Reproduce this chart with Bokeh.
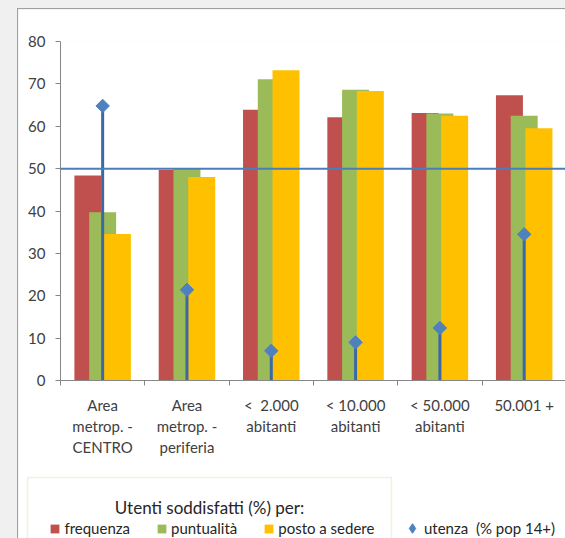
from bokeh.plotting import figure
from bokeh.models import (Range1d, FixedTicker, Span, BoxAnnotation, Label,
                          Legend, LegendItem, ColumnDataSource)
from bokeh.transform import dodge
from bokeh.embed import file_html
from bokeh.resources import INLINE

# --- data -------------------------------------------------------------
categorie = ["Area\nmetrop. -\nCENTRO", "Area\nmetrop. -\nperiferia",
             "<\u00a0 2.000\nabitanti", "< 10.000\nabitanti",
             "< 50.000\nabitanti", "50.001 +"]
frequenza = [48.4, 49.7, 63.9, 62.1, 63.1, 67.3]
puntualita = [39.7, 49.9, 71.1, 68.6, 63.0, 62.5]
posto_a_sedere = [34.6, 48.0, 73.2, 68.3, 62.5, 59.5]
utenza = [64.8, 21.4, 7.0, 9.0, 12.4, 34.5]
soglia = 50
y_ticks = [0, 10, 20, 30, 40, 50, 60, 70, 80]

# --- style ------------------------------------------------------------
FONT = "Lato"
TXT = "#404040"
LEG_TXT = "#262626"
AXIS = "#868686"
C_FREQ, C_PUNT, C_POSTO = "#c0504d", "#9bbb59", "#ffc000"
C_BLUE, C_STEM = "#4f81bd", "#3c68a4"

W = 547
H_CHART = 461
H_LEG = 70

centri = [i + 0.5 for i in range(len(categorie))]
src = ColumnDataSource(dict(x=centri, freq=frequenza, punt=puntualita,
                            posto=posto_a_sedere, ut=utenza,
                            zero=[0] * len(centri)))

# --- main chart -------------------------------------------------------
p = figure(width=W, height=H_CHART, output_backend="svg", toolbar_location=None,
           x_range=Range1d(0, 5.99), y_range=Range1d(0, 80),
           min_border_left=42, min_border_right=0, min_border_top=32,
           min_border_bottom=90, background_fill_color="white",
           border_fill_color="white", outline_line_color=None)
p.margin = (9, 0, 0, 18)
p.grid.visible = False

p.yaxis.ticker = FixedTicker(ticks=y_ticks)
p.yaxis.axis_line_color = AXIS
p.yaxis.major_tick_line_color = AXIS
p.yaxis.major_tick_out = 5
p.yaxis.major_tick_in = 0
p.yaxis.minor_tick_line_color = None
p.yaxis.major_label_standoff = 10
p.yaxis.major_label_text_font = FONT
p.yaxis.major_label_text_font_size = "15px"
p.yaxis.major_label_text_color = TXT

p.xaxis.ticker = FixedTicker(ticks=centri, minor_ticks=list(range(len(categorie) + 1)))
p.xaxis.major_label_overrides = {c: lab for c, lab in zip(centri, categorie)}
p.xaxis.axis_line_color = AXIS
p.xaxis.major_tick_line_color = None
p.xaxis.minor_tick_line_color = AXIS
p.xaxis.minor_tick_out = 5
p.xaxis.minor_tick_in = 0
p.xaxis.major_label_standoff = 9
p.xaxis.major_label_text_font = FONT
p.xaxis.major_label_text_font_size = "15px"
p.xaxis.major_label_text_color = TXT
p.xaxis.major_label_text_line_height = 1.17

# overlapping bar clusters
bw = 0.32
p.vbar(x=dodge("x", -0.175, range=p.x_range), top="freq", width=bw,
       source=src, fill_color=C_FREQ, line_color=None)
p.vbar(x=dodge("x", 0.0, range=p.x_range), top="punt", width=bw,
       source=src, fill_color=C_PUNT, line_color=None)
p.vbar(x=dodge("x", 0.175, range=p.x_range), top="posto", width=bw,
       source=src, fill_color=C_POSTO, line_color=None)

# reference level
p.add_layout(Span(location=soglia, dimension="width", line_color="#4a7ebb",
                  line_width=2, level="overlay"))

# usage: stems with diamond heads
p.segment(x0="x", y0="zero", x1="x", y1="ut", source=src,
          line_color=C_STEM, line_width=3)
p.scatter(x="x", y="ut", source=src, marker="square", angle=0.785398,
          size=9.5, fill_color=C_BLUE, line_color=C_BLUE)

# --- legend strip (pixel coordinates) ---------------------------------
q = figure(width=W, height=H_LEG, output_backend="svg", toolbar_location=None,
           x_range=Range1d(0, W), y_range=Range1d(0, H_LEG),
           min_border=0, background_fill_color="white",
           border_fill_color="white", outline_line_color=None)
q.margin = (-2, 0, 0, 18)
q.axis.visible = False
q.grid.visible = False

q.add_layout(BoxAnnotation(left=9, right=373, top=61, bottom=-30,
                           fill_alpha=0, line_color="#d3cba5", line_width=1.5))
q.add_layout(Label(x=191, y=31, text="Utenti soddisfatti (%) per:",
                   text_align="center", text_baseline="middle", text_font=FONT,
                   text_font_size="17px", text_color=LEG_TXT))

# legend swatches only (NaN keeps them off the canvas)
nan = float("nan")
g_freq = q.vbar(x=[nan], top=[nan], width=1, fill_color=C_FREQ, line_color=None)
g_punt = q.vbar(x=[nan], top=[nan], width=1, fill_color=C_PUNT, line_color=None)
g_posto = q.vbar(x=[nan], top=[nan], width=1, fill_color=C_POSTO, line_color=None)
g_ut = q.scatter(x=[nan], y=[nan], marker="diamond", fill_color=C_BLUE,
                 line_color=C_BLUE)

leg_a = Legend(items=[LegendItem(label="frequenza", renderers=[g_freq]),
                      LegendItem(label="puntualità", renderers=[g_punt]),
                      LegendItem(label="posto a sedere", renderers=[g_posto])],
               orientation="horizontal", location=(31.4, 0), padding=0,
               margin=0, spacing=26, glyph_width=11, glyph_height=11,
               label_standoff=4, label_height=20, label_text_font=FONT,
               label_text_font_size="15px", label_text_color=LEG_TXT,
               border_line_color=None, background_fill_alpha=0)
leg_b = Legend(items=[LegendItem(label="utenza  (% pop 14+)", renderers=[g_ut])],
               orientation="horizontal", location=(382, -2), padding=0,
               margin=0, glyph_width=24, glyph_height=24, label_standoff=-2,
               label_height=20, label_text_font=FONT,
               label_text_font_size="15px", label_text_color=LEG_TXT,
               border_line_color=None, background_fill_alpha=0)
q.add_layout(leg_a)
q.add_layout(leg_b)

html = file_html([p, q], INLINE)
html = html.replace(
    "</head>",
    "<style>html,body{margin:0;padding:0;background:#f0f0f0;}"
    "body::before{content:'';position:absolute;left:17px;top:8px;width:548px;"
    "height:530px;border-left:1px solid #a0a0a0;border-top:1px solid #a0a0a0;"
    "box-sizing:border-box;}</style></head>", 1)
open("out.html", "w").write(html)
